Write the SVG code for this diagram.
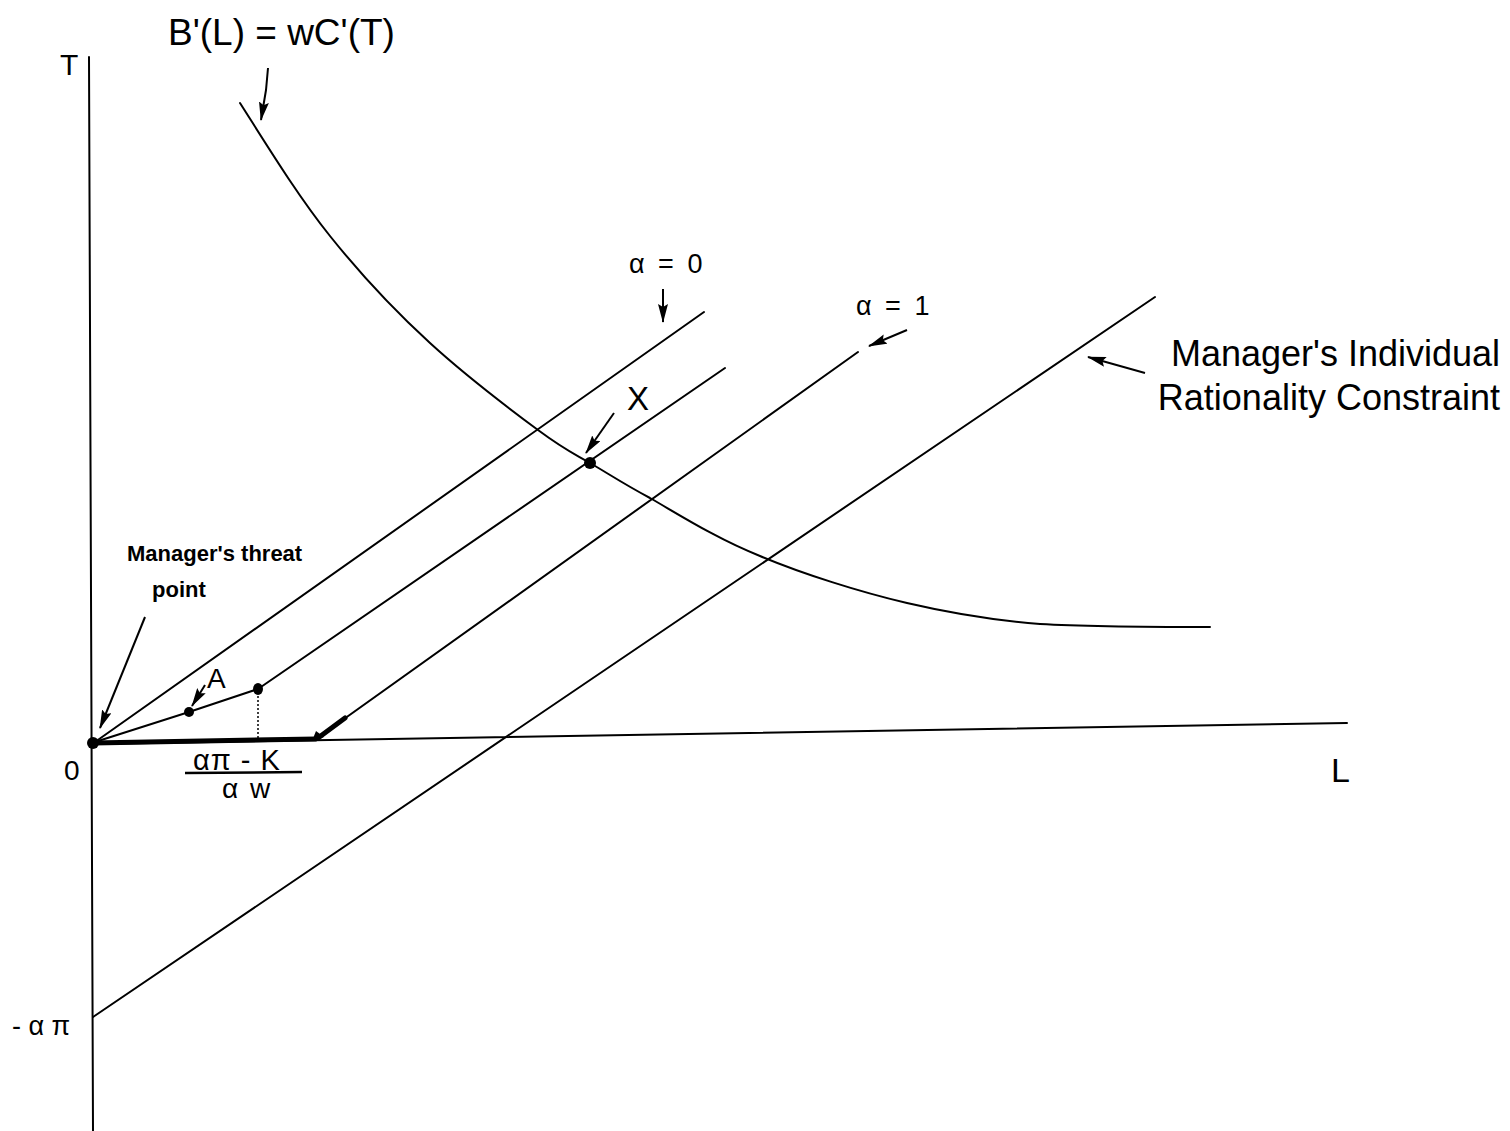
<svg xmlns="http://www.w3.org/2000/svg" width="1510" height="1131" viewBox="0 0 1510 1131">
<defs>
<style>
.ln{fill:none;stroke:#000;stroke-width:2;stroke-linecap:round;stroke-linejoin:round}
.th{fill:none;stroke:#000;stroke-width:5;stroke-linecap:round}
.ar{fill:none;stroke:#000;stroke-width:2;marker-end:url(#ah)}
.t{font-family:"Liberation Sans",Arial,sans-serif;fill:#000}
.b{font-family:"Liberation Sans",Arial,sans-serif;font-weight:bold;fill:#000}
.dot{fill:#000}
</style>
<marker id="ah" markerWidth="19" markerHeight="10" refX="18" refY="5" orient="auto" markerUnits="userSpaceOnUse"><path d="M0,0 L19,5 L0,10 L3,5 z" fill="#000"/></marker>
</defs>
<rect width="1510" height="1131" fill="#fff"/>
<g id="axes">
<line class="ln" x1="89" y1="57" x2="93" y2="1131"/>
<line class="ln" x1="92" y1="744" x2="1347" y2="723"/>
<text class="t" x="60" y="75" font-size="30">T</text>
<text class="t" x="64" y="780" font-size="28">0</text>
<text class="t" x="1331" y="782" font-size="34">L</text>
<text class="t" x="12" y="1035" font-size="27">- α π</text>
</g>
<g id="curve">
<path class="ln" d="M240,103 C268,147 298,196 330,236 C362,276 395,311 430,343 C465,375 511,410 538,430 C565,450 571,452 590,463 C609,474 622,483 650,498 C678,514 717,539 760,556 C803,574 860,592 907,603 C954,614 990,620 1040,624 C1091,627 1182,627 1210,627"/>
<text class="t" x="168" y="45" font-size="37">B'(L) = wC'(T)</text>
</g>
<g id="alpha0">
<line class="ln" x1="95" y1="742" x2="704" y2="312"/>
<text class="t" x="629" y="273" font-size="27" letter-spacing="3">α = 0</text>
</g>
<g id="middle-line">
<polyline class="ln" points="95,742 189,712 258,689 725,368"/>
<line x1="258" y1="692" x2="258" y2="740" stroke="#000" stroke-width="1.5" stroke-dasharray="2,2"/>
</g>
<g id="alpha1">
<line class="ln" x1="316" y1="739" x2="858" y2="352"/>
<text class="t" x="856" y="315" font-size="27" letter-spacing="3">α = 1</text>
</g>
<g id="ir-constraint">
<line class="ln" x1="93" y1="1017" x2="1155" y2="297"/>
<text class="t" x="1500" y="366" font-size="36" text-anchor="end">Manager's Individual</text>
<text class="t" x="1500" y="410" font-size="36" text-anchor="end">Rationality Constraint</text>
</g>
<g id="thick-segment">
<line class="th" x1="93" y1="743" x2="316" y2="739"/>
<line class="th" x1="345" y1="718" x2="318" y2="738"/>
<path d="M312,741 L316,731 L324,737 z" fill="#000"/>
</g>
<g id="threat-point">
<circle class="dot" cx="93" cy="743" r="6"/>
<text class="b" x="127" y="561" font-size="22">Manager's threat</text>
<text class="b" x="152" y="597" font-size="22">point</text>
</g>
<g id="point-A">
<circle class="dot" cx="189" cy="712" r="5"/>
<text class="t" x="207" y="688" font-size="28">A</text>
</g>
<g id="kink-point">
<ellipse class="dot" cx="258" cy="689" rx="5" ry="6"/>
</g>
<g id="point-X">
<circle class="dot" cx="590" cy="463" r="6"/>
<text class="t" x="627" y="410" font-size="33">X</text>
</g>
<g id="fraction">
<text class="t" x="193" y="770" font-size="29" letter-spacing="1">απ - K</text>
<line x1="185" y1="773" x2="302" y2="772" stroke="#000" stroke-width="2.5"/>
<text class="t" x="222" y="798" font-size="28" letter-spacing="2">α w</text>
</g>
<g id="connectors">
<path class="ar" d="M268,68 L266,90 L261,120"/>
<line class="ar" x1="663" y1="289" x2="663" y2="322"/>
<line class="ar" x1="907" y1="330" x2="869" y2="346"/>
<line class="ar" x1="614" y1="413" x2="586" y2="453"/>
<line class="ar" x1="1145" y1="373" x2="1088" y2="357"/>
<line class="ar" x1="145" y1="617" x2="100" y2="728"/>
<line class="ar" x1="205" y1="685" x2="192" y2="706"/>
</g>
</svg>
